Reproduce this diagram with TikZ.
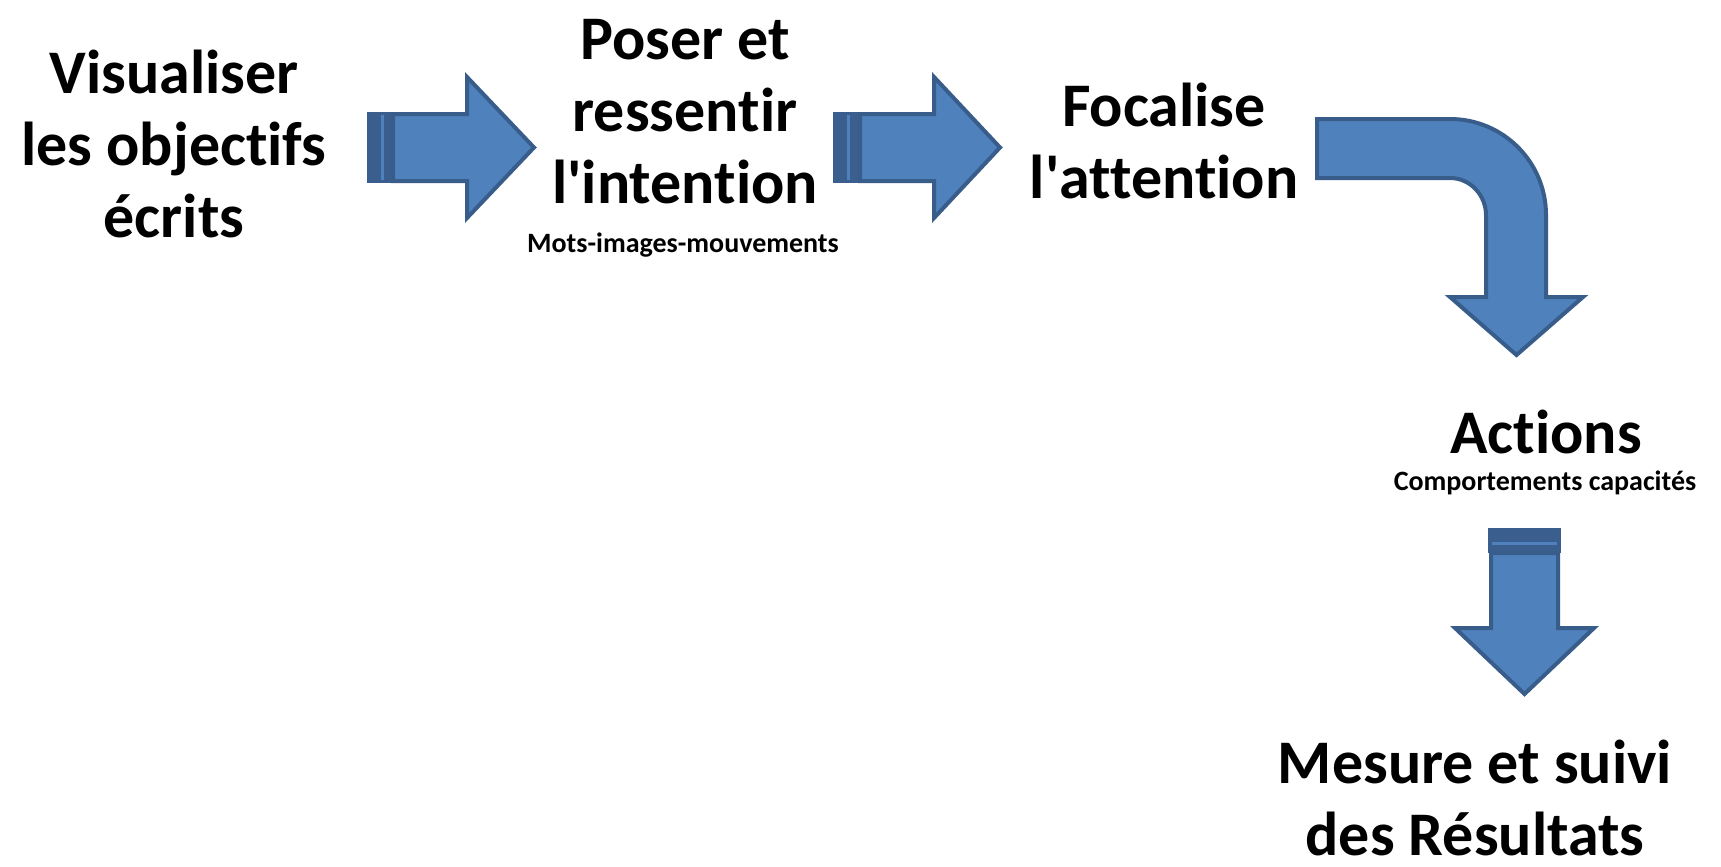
\documentclass[tikz,border=0pt]{standalone}
\usepackage{fontspec}
\setmainfont{Carlito}[Ligatures={NoCommon}]
\definecolor{arrfill}{HTML}{4F81BD}
\definecolor{arrline}{HTML}{385D8A}
\definecolor{stripe}{HTML}{3A5E8D}
\begin{document}
\begin{tikzpicture}[x=1pt,y=-1pt,
  arrowbody/.style={fill=arrfill,draw=arrline,line width=4pt,line join=miter},
  stripegap/.style={draw=arrfill,line width=2.5pt},
  bigtxt/.style={font=\bfseries\fontsize{62}{72}\selectfont,align=center,anchor=base,inner sep=0pt},
  smalltxt/.style={font=\bfseries\fontsize{28}{34}\selectfont,align=center,anchor=base,inner sep=0pt}]
\useasboundingbox (0,0) rectangle (1721,867);
\fill[white] (0,0) rectangle (1721,867);

% arrow 1
\fill[stripe] (367,112) rectangle (393,183);
\draw[stripegap] (382.5,115) -- (382.5,180);
\draw[arrowbody] (393,114) -- (467,114) -- (467,77) -- (534,147.5) -- (467,218) -- (467,181) -- (393,181) -- cycle;

% arrow 2
\fill[stripe] (833,112) rectangle (860,183);
\draw[stripegap] (848.5,115) -- (848.5,180);
\draw[arrowbody] (860,114) -- (934,114) -- (934,77) -- (1000,147.5) -- (934,218) -- (934,181) -- (860,181) -- cycle;

% bent arrow
\draw[arrowbody] (1317,119) -- (1450,119) .. controls (1503,119) and (1546,162) .. (1546,215)
  -- (1546,297) -- (1583,297) -- (1516.5,355) -- (1450,297) -- (1486,297) -- (1486,215)
  .. controls (1486,195) and (1470,178) .. (1450,178) -- (1317,178) -- cycle;

% down striped arrow
\fill[stripe] (1488,528) rectangle (1561,553);
\draw[stripegap] (1492,543.5) -- (1557,543.5);
\draw[arrowbody] (1491,553) -- (1491,628) -- (1455,628) -- (1524.5,694) -- (1594,628) -- (1558,628) -- (1558,553) -- cycle;

% texts (anchor base = last line baseline)
\node[bigtxt] (t1) at (174,237) {Visualiser\\les objectifs\\écrits};
\node[bigtxt] (t2) at (685,203) {Poser et\\ressentir\\l\textquotesingle intention};
\node[smalltxt] (t2s) at (683,252) {Mots-images-mouvements};
\node[bigtxt] (t3) at (1164,198) {Focalise\\l\textquotesingle attention};
\node[bigtxt] (t4) at (1546,453) {Actions};
\node[smalltxt] (t4s) at (1545,490) {Comportements capacités};
\node[bigtxt] (t5) at (1475,855) {Mesure et suivi\\des Résultats};
\end{tikzpicture}
\end{document}
